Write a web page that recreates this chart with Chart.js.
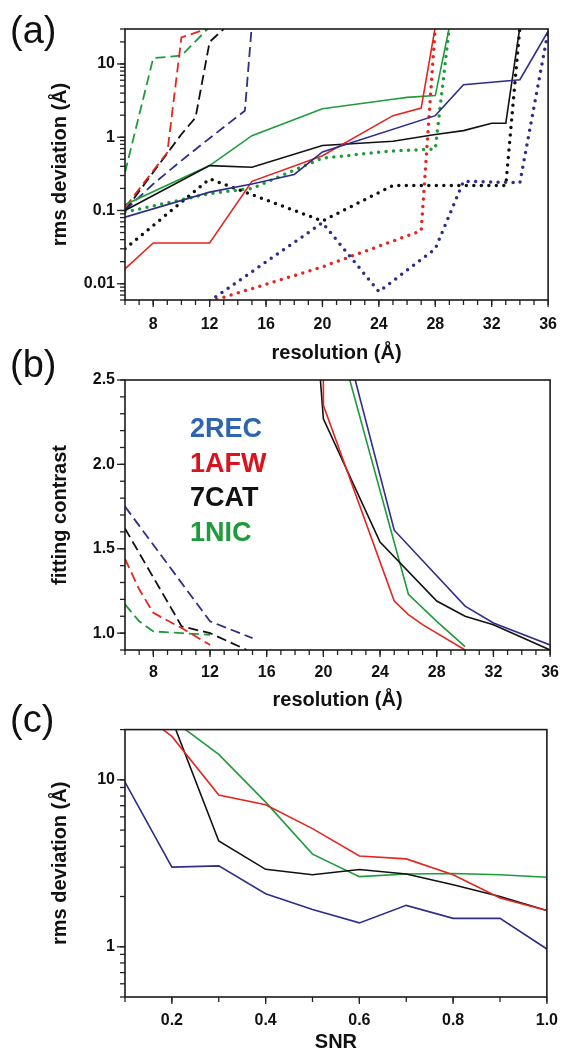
<!DOCTYPE html>
<html><head><meta charset="utf-8">
<script src="https://cdn.jsdelivr.net/npm/chart.js@4.4.1/dist/chart.umd.min.js"></script>
<style>
html,body{margin:0;padding:0;background:#fff;}
body{width:572px;height:1051px;position:relative;overflow:hidden;font-family:"Liberation Sans",Arial,sans-serif;}
canvas{position:absolute;left:0;}
.lab{position:absolute;left:10px;font-size:38px;line-height:38px;color:#111;}
#legend{position:absolute;left:190px;top:411px;font-weight:bold;font-size:27px;line-height:34.5px;}
</style></head><body>
<canvas id="ca" width="572" height="365" style="top:0"></canvas>
<canvas id="cb" width="572" height="352" style="top:360px"></canvas>
<canvas id="cc" width="572" height="344" style="top:710px"></canvas>
<div class="lab" style="top:11px">(a)</div>
<div class="lab" style="top:345px">(b)</div>
<div class="lab" style="top:700px">(c)</div>
<div id="legend">
<div style="color:#2f65ae">2REC</div>
<div style="color:#d9141e">1AFW</div>
<div style="color:#111">7CAT</div>
<div style="color:#1f9a3c">1NIC</div>
</div>
<script>
// ---------- Panel (a): rms deviation vs resolution ----------
const A_XTICKS = [8,12,16,20,24,28,32,36];
const A_YTICKS = [0.01,0.1,1,10];
const A_2REC_solid = [[6,0.081],[12,0.178],[15,0.23],[18,0.31],[20,0.63],[28,1.97],[30,5.2],[34,6.1],[36,28]];
const A_1AFW_solid = [[6,0.016],[8,0.036],[12,0.036],[15,0.25],[20,0.56],[25,1.97],[27,2.5],[28,32]];
const A_7CAT_solid = [[6,0.1],[12,0.41],[15,0.39],[20,0.77],[25,0.88],[28,1.09],[30,1.23],[32,1.55],[33,1.55],[34,32]];
const A_1NIC_solid = [[6,0.12],[12,0.41],[15,1.05],[20,2.45],[25,3.3],[26,3.5],[28,3.7],[29,32]];
const A_2REC_dash = [[6,0.1],[8,0.23],[10,0.48],[12,0.97],[14.5,2.3],[15,35]];
const A_1AFW_dash = [[6,0.11],[9,0.62],[10,23],[12,31]];
const A_7CAT_dash = [[6,0.1],[10,1.1],[11,1.85],[12,20],[13,30]];
const A_1NIC_dash = [[6,0.33],[8,12],[10,13],[12,32]];
const A_2REC_dot = [[12,0.0058],[20,0.068],[24,0.0078],[28,0.03],[30,0.25],[34,0.24],[36,28]];
const A_1AFW_dot = [[12,0.0057],[20,0.017],[27,0.053],[28,32]];
const A_7CAT_dot = [[6,0.03],[12,0.27],[20,0.072],[25,0.22],[33,0.22],[34,32]];
const A_1NIC_dot = [[6,0.095],[12,0.17],[15,0.2],[20,0.52],[25,0.65],[28,0.69],[29,32]];

// ---------- Panel (b): fitting contrast vs resolution ----------
const B_XTICKS = [8,12,16,20,24,28,32,36];
const B_YTICKS = [1.0,1.5,2.0,2.5];
const B_2REC_solid = [[22,2.58],[25,1.61],[30,1.16],[32,1.06],[36,0.93]];
const B_1AFW_solid = [[20,2.6],[20,2.35],[25,1.19],[26,1.11],[27,1.05],[30,0.9]];
const B_7CAT_solid = [[19.7,2.6],[20,2.27],[24,1.54],[28,1.19],[30,1.1],[32,1.05],[36,0.9]];
const B_1NIC_solid = [[21.7,2.55],[26,1.23],[28,1.07],[30,0.92]];
const B_2REC_dash = [[6,1.75],[12,1.07],[15,0.97]];
const B_1AFW_dash = [[6,1.44],[7,1.26],[8,1.12],[10,1.03],[12,0.93]];
const B_7CAT_dash = [[6,1.62],[10,1.04],[12,1.0],[14.6,0.9]];
const B_1NIC_dash = [[6,1.17],[7,1.07],[8,1.01],[10,1.0],[12,0.99]];

// ---------- Panel (c): rms deviation vs SNR ----------
const C_SNR = [0.1,0.2,0.3,0.4,0.5,0.6,0.7,0.8,0.9,1.0];
const C_XTICKS = [0.2,0.4,0.6,0.8,1.0];
const C_YTICKS = [1,10];
const C_2REC = [9.7,3.0,3.05,2.08,1.67,1.39,1.77,1.48,1.48,0.97];
const C_1AFW = [30,18.2,8.1,7.1,5.1,3.5,3.36,2.7,1.96,1.65];
const C_7CAT = [null,23,4.3,2.91,2.7,2.9,2.73,2.35,2.0,1.65];
const C_1NIC = [null,23,14.2,7.35,3.59,2.63,2.73,2.75,2.7,2.61];

const BLUE='#2e2e8a', RED='#e3261f', BLACK='#111111', GREEN='#1f9b3b';
const FONT='"Liberation Sans", Arial, sans-serif';
Chart.defaults.font.family = FONT;
Chart.defaults.color = '#111';

function ds(pts, color, style){
  const d = {data: pts.map(p=>({x:p[0],y:p[1]})), borderColor: color, backgroundColor: color,
    pointRadius:0, pointHoverRadius:0, tension:0, fill:false, spanGaps:false};
  if(style==='solid') Object.assign(d,{borderWidth:1.6});
  if(style==='dash') Object.assign(d,{borderWidth:1.8, borderDash:[10,5]});
  if(style==='dot') Object.assign(d,{borderWidth:3.5, borderDash:[0,7.5], borderCapStyle:'round'});
  return d;
}
function zip(xs, ys){ return xs.map((x,i)=>[x,ys[i]]).filter(p=>p[1]!==null); }

function range(a,b,s){ const r=[]; for(let v=a; v<=b+1e-9; v+=s) r.push(+v.toFixed(4)); return r; }
function logMinor(lo, hi){ const r=[]; for(let e=-3;e<=2;e++){ for(let m=1;m<=9;m++){ const v=+(m*Math.pow(10,e)).toPrecision(3); if(v>=lo-1e-12 && v<=hi+1e-12) r.push(v);} } return r; }

const tickPlugin = {
  id:'tickMarks',
  afterDraw(chart, args, o){
    const ctx=chart.ctx, ca=chart.chartArea, xs=chart.scales.x, ys=chart.scales.y;
    ctx.save();
    ctx.strokeStyle='#222'; ctx.lineWidth=1.3;
    const ln=(x1,y1,x2,y2)=>{ctx.beginPath();ctx.moveTo(x1,y1);ctx.lineTo(x2,y2);ctx.stroke();};
    o.xMinor.forEach(v=>{const p=xs.getPixelForValue(v); ln(p,ca.bottom,p,ca.bottom+5);});
    o.xMajor.forEach(v=>{const p=xs.getPixelForValue(v); ln(p,ca.bottom,p,ca.bottom+7);});
    o.yMinor.forEach(v=>{const p=ys.getPixelForValue(v); ln(ca.left-5,p,ca.left,p);});
    o.yMajor.forEach(v=>{const p=ys.getPixelForValue(v); ln(ca.left-8,p,ca.left,p);});
    ctx.strokeStyle='#1a1a1a'; ctx.lineWidth=1.6;
    ctx.strokeRect(ca.left,ca.top,ca.right-ca.left,ca.bottom-ca.top);
    ctx.restore();
  }
};

function makeChart(id, datasets, cfg){
  return new Chart(document.getElementById(id), {
    type:'line',
    data:{datasets},
    plugins:[tickPlugin],
    options:{
      responsive:false, animation:false, events:[],
      layout:{padding:{top:cfg.padTop,left:0,right:14,bottom:0}},
      plugins:{legend:{display:false}, tooltip:{enabled:false},
        tickMarks:{xMajor:cfg.xTicks, xMinor:cfg.xMinor, yMajor:cfg.yTicks, yMinor:cfg.yMinor}},
      scales:{
        x:{type:'linear', min:cfg.xMin, max:cfg.xMax,
          afterBuildTicks:s=>{s.ticks=cfg.xTicks.map(v=>({value:v}));},
          afterFit:s=>{s.height=cfg.xH;},
          grid:{display:false, drawTicks:false}, border:{display:false},
          ticks:{autoSkip:false, maxRotation:0, padding:cfg.xLabPad, color:'#111',
            font:{size:16, weight:'bold'}, callback:cfg.xFmt},
          title:{display:true, text:cfg.xTitle, color:'#111', font:{size:20, weight:'bold'}, padding:{top:0,bottom:cfg.xTitlePad}}
        },
        y:{type:cfg.yType, min:cfg.yMin, max:cfg.yMax,
          afterBuildTicks:s=>{s.ticks=cfg.yTicks.map(v=>({value:v}));},
          afterFit:s=>{s.width=125;},
          grid:{display:false, drawTicks:false}, border:{display:false},
          ticks:{autoSkip:false, padding:10, color:'#111', font:{size:16, weight:'bold'}, callback:cfg.yFmt},
          title:{display:true, text:cfg.yTitle, color:'#111', font:{size:20, weight:'bold'}, padding:{top:48,bottom:0}}
        }
      }
    }
  });
}

// Panel (a)
makeChart('ca', [
  ds(A_2REC_solid,BLUE,'solid'), ds(A_1AFW_solid,RED,'solid'), ds(A_7CAT_solid,BLACK,'solid'), ds(A_1NIC_solid,GREEN,'solid'),
  ds(A_2REC_dash,BLUE,'dash'), ds(A_1AFW_dash,RED,'dash'), ds(A_7CAT_dash,BLACK,'dash'), ds(A_1NIC_dash,GREEN,'dash'),
  ds(A_2REC_dot,BLUE,'dot'), ds(A_1AFW_dot,RED,'dot'), ds(A_7CAT_dot,BLACK,'dot'), ds(A_1NIC_dot,GREEN,'dot')
], {padTop:29, xMin:6, xMax:36, xTicks:A_XTICKS, xMinor:range(6,36,1), xH:65, xLabPad:15, xTitlePad:0,
    xFmt:v=>String(v), xTitle:'resolution (Å)',
    yType:'logarithmic', yMin:0.006, yMax:30, yTicks:A_YTICKS, yMinor:logMinor(0.006,30), yFmt:v=>String(v),
    yTitle:'rms deviation (Å)'});

// Panel (b)
makeChart('cb', [
  ds(B_2REC_solid,BLUE,'solid'), ds(B_1AFW_solid,RED,'solid'), ds(B_7CAT_solid,BLACK,'solid'), ds(B_1NIC_solid,GREEN,'solid'),
  ds(B_2REC_dash,BLUE,'dash'), ds(B_1AFW_dash,RED,'dash'), ds(B_7CAT_dash,BLACK,'dash'), ds(B_1NIC_dash,GREEN,'dash')
], {padTop:20, xMin:6, xMax:36, xTicks:B_XTICKS, xMinor:range(6,36,1), xH:62, xLabPad:13, xTitlePad:0,
    xFmt:v=>String(v), xTitle:'resolution (Å)',
    yType:'linear', yMin:0.9, yMax:2.5, yTicks:B_YTICKS, yMinor:range(0.9,2.5,0.1), yFmt:v=>Number(v).toFixed(1),
    yTitle:'fitting contrast'});

// Panel (c)
makeChart('cc', [
  ds(zip(C_SNR,C_2REC),BLUE,'solid'), ds(zip(C_SNR,C_1AFW),RED,'solid'), ds(zip(C_SNR,C_7CAT),BLACK,'solid'), ds(zip(C_SNR,C_1NIC),GREEN,'solid')
], {padTop:16, xMin:0.1, xMax:1.0, xTicks:C_XTICKS, xMinor:range(0.1,1.0,0.1), xH:57, xLabPad:14, xTitlePad:0,
    xFmt:v=>Number(v).toFixed(1), xTitle:'SNR',
    yType:'logarithmic', yMin:0.5, yMax:20, yTicks:C_YTICKS, yMinor:logMinor(0.5,20), yFmt:v=>String(v),
    yTitle:'rms deviation (Å)'});
</script>
</body></html>
